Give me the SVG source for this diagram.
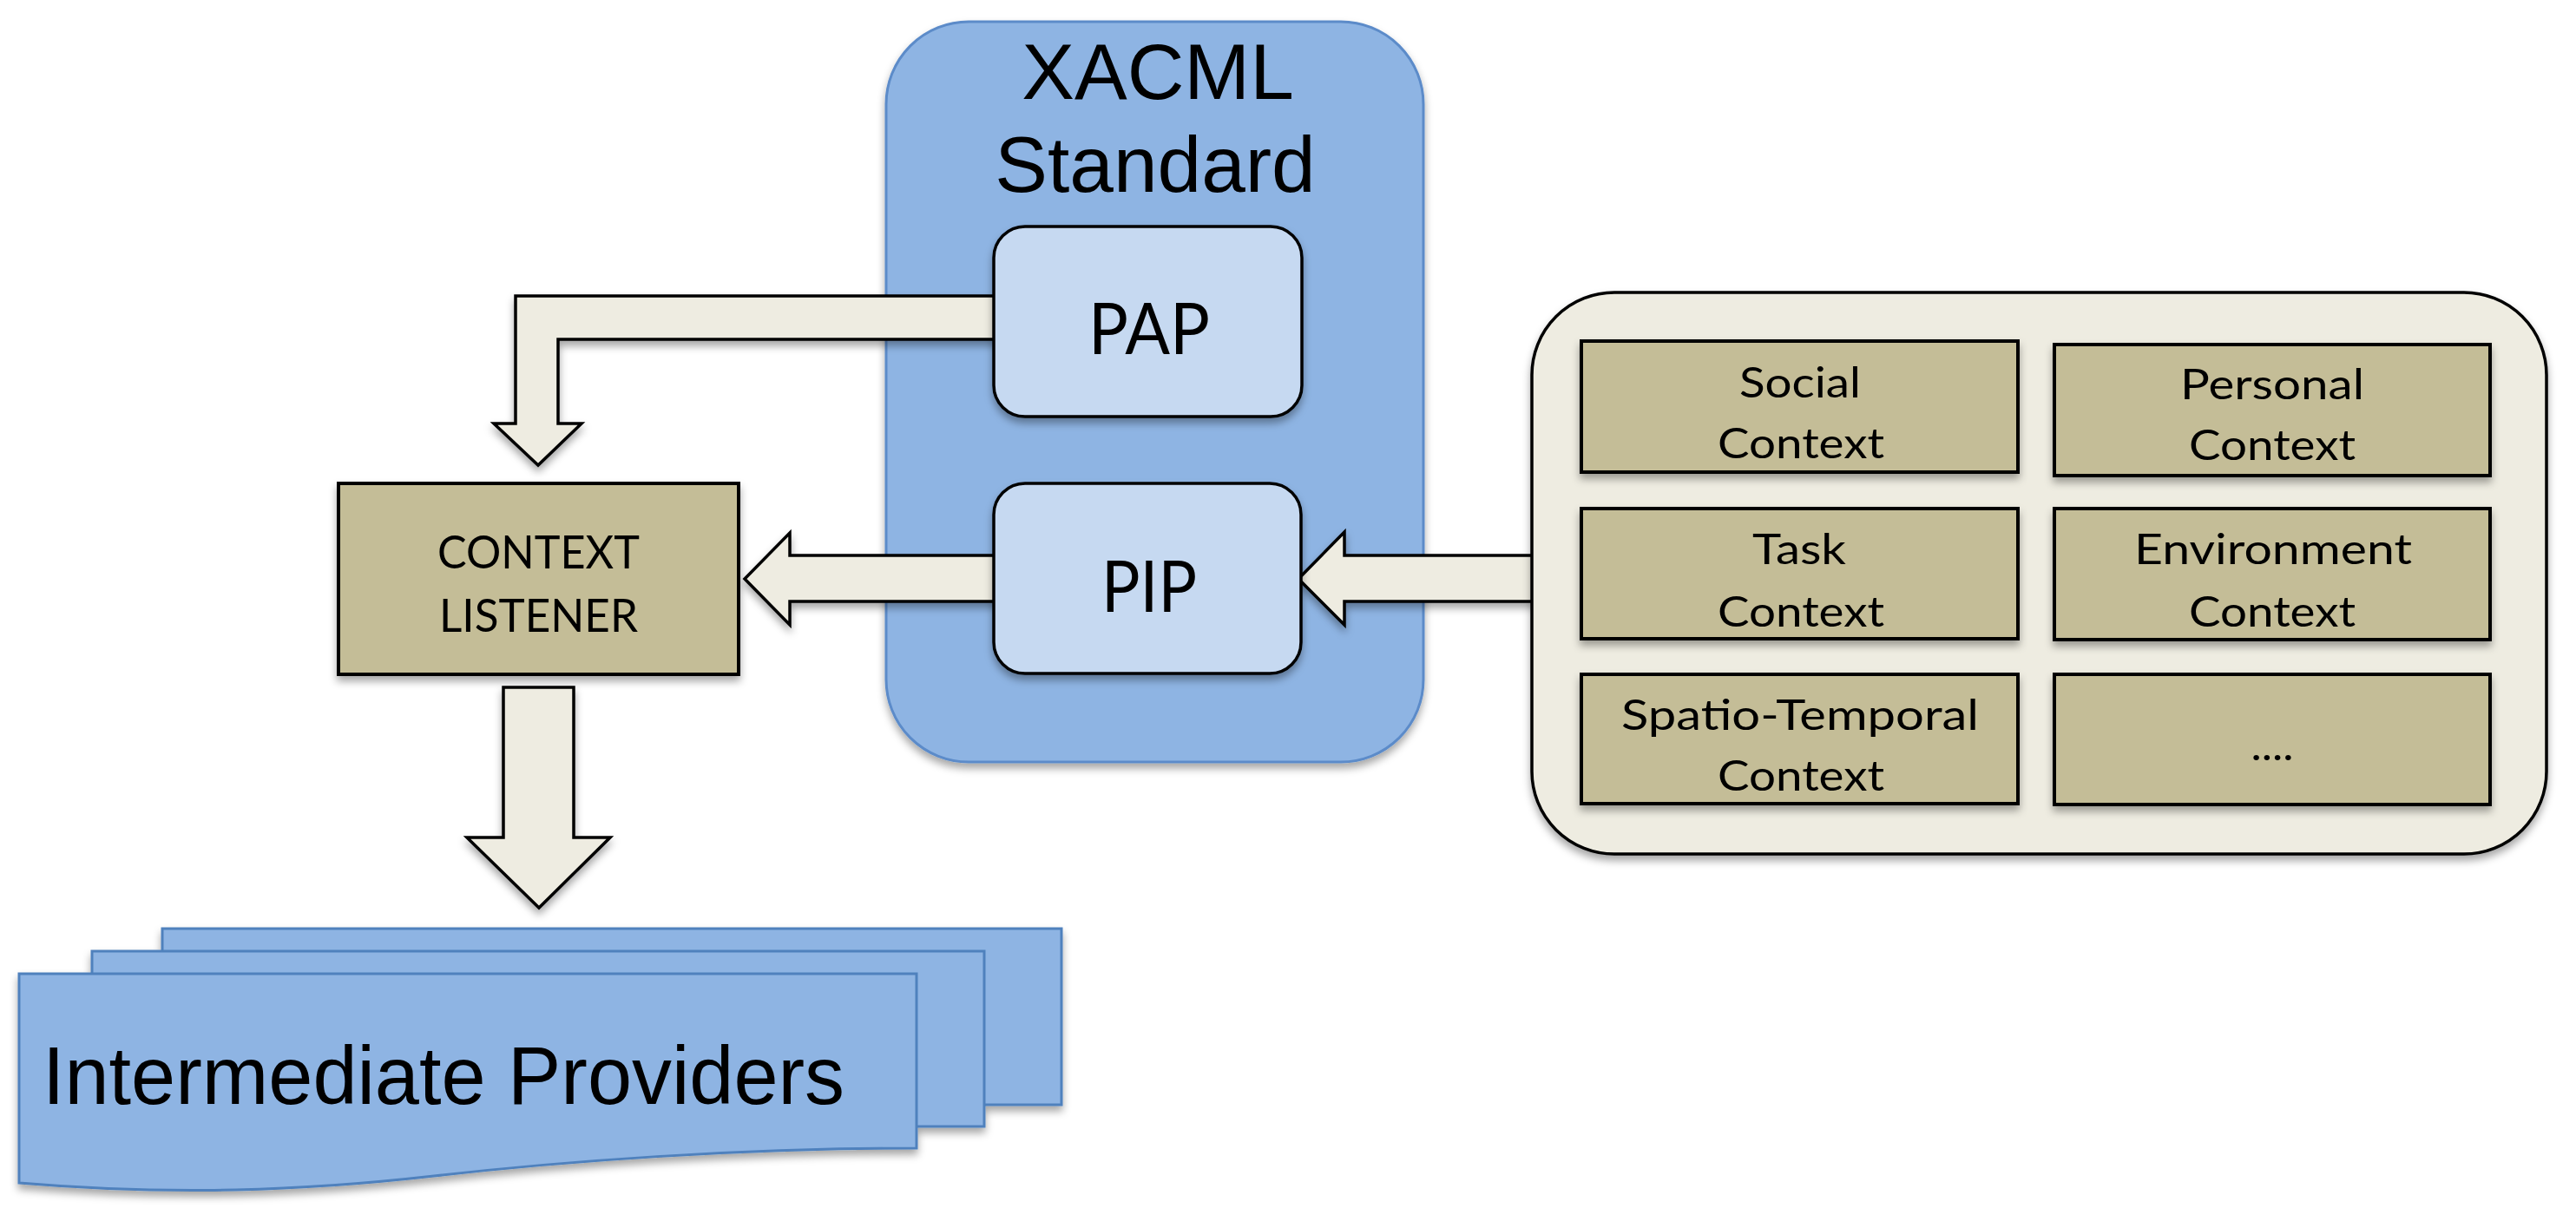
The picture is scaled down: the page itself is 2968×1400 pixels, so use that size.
<svg xmlns="http://www.w3.org/2000/svg" width="2968" height="1400" viewBox="0 0 2968 1400">
<defs>
<filter id="sh" x="-10%" y="-10%" width="120%" height="130%">
<feDropShadow dx="0" dy="6" stdDeviation="5" flood-color="#000" flood-opacity="0.35"/>
</filter>
<style>
.xacml{fill:#8eb4e3;stroke:#5b8bc9;stroke-width:3}
.inner{fill:#c6d9f1;stroke:#000;stroke-width:3.5}
.khaki{fill:#c4bd97;stroke:#000;stroke-width:4}
.cont{fill:#eeece1;stroke:#000;stroke-width:3.5}
.arrow{fill:#eeece1;stroke:#000;stroke-width:3.5;stroke-linejoin:miter}
.sheet{fill:#8eb4e3;stroke:#4f81bd;stroke-width:3}
.arial{font-family:"Liberation Sans",Arial,sans-serif;fill:#000}
.cal{font-family:Lato,"Open Sans",sans-serif;fill:#000;text-anchor:middle}
.ctx{font-size:48px}
</style>
</defs>
<rect width="2968" height="1400" fill="#fff"/>

<g id="xacml">
<rect class="xacml" x="1021" y="25" width="619" height="853" rx="95" ry="95" filter="url(#sh)"/>
<text class="arial" x="1334" y="114" font-size="91" text-anchor="middle">XACML</text>
<text class="arial" x="1331" y="221" font-size="91" text-anchor="middle">Standard</text>
</g>

<g id="intermediate-providers" filter="url(#sh)">
<rect class="sheet" x="187" y="1070" width="1036" height="203"/>
<rect class="sheet" x="106" y="1096" width="1028" height="202"/>
<path class="sheet" d="M22 1122 H1056 V1323 C850 1323 650 1338 500 1355 C350 1372 200 1378 22 1363 Z"/>
<text class="arial" x="49" y="1272" font-size="94" textLength="924" lengthAdjust="spacingAndGlyphs">Intermediate Providers</text>
</g>

<g id="connectors" filter="url(#sh)">
<path class="arrow" d="M1147 341 H594 V488 H569 L620 536 L670 488 H643 V391 H1147 Z"/>
<path class="arrow" d="M1147 640 H910 V614 L858 667 L910 720 V693 H1147 Z"/>
<path class="arrow" d="M1768 640 H1549 V613 L1496 667 L1549 720 V693 H1768 Z"/>
<path class="arrow" d="M580 792 H661 V965 H703 L621 1046 L538 965 H580 Z"/>
</g>

<g id="pap">
<rect class="inner" x="1145" y="261" width="355" height="219" rx="36" ry="36" filter="url(#sh)"/>
<text class="cal" x="1324" y="408" font-size="81" textLength="140" lengthAdjust="spacingAndGlyphs">PAP</text>
</g>

<g id="pip">
<rect class="inner" x="1145" y="557" width="354" height="219" rx="36" ry="36" filter="url(#sh)"/>
<text class="cal" x="1324" y="705" font-size="81" textLength="110" lengthAdjust="spacingAndGlyphs">PIP</text>
</g>

<g id="context-listener">
<rect class="khaki" x="390" y="557" width="461" height="220" filter="url(#sh)"/>
<text class="cal" x="620.5" y="655" font-size="53" textLength="233" lengthAdjust="spacingAndGlyphs">CONTEXT</text>
<text class="cal" x="620.5" y="728" font-size="53" textLength="229" lengthAdjust="spacingAndGlyphs">LISTENER</text>
</g>

<g id="context-sources">
<rect class="cont" x="1765" y="337" width="1169" height="647" rx="95" ry="95" filter="url(#sh)"/>
</g>

<g id="social-context">
<rect class="khaki" x="1822" y="393" width="503" height="151" filter="url(#sh)"/>
<text class="cal ctx" x="2074" y="458" textLength="140" lengthAdjust="spacingAndGlyphs">Social</text>
<text class="cal ctx" x="2075" y="528" textLength="192" lengthAdjust="spacingAndGlyphs">Context</text>
</g>

<g id="personal-context">
<rect class="khaki" x="2367" y="397" width="502" height="151" filter="url(#sh)"/>
<text class="cal ctx" x="2618" y="460" textLength="212" lengthAdjust="spacingAndGlyphs">Personal</text>
<text class="cal ctx" x="2618" y="530" textLength="192" lengthAdjust="spacingAndGlyphs">Context</text>
</g>

<g id="task-context">
<rect class="khaki" x="1822" y="586" width="503" height="150" filter="url(#sh)"/>
<text class="cal ctx" x="2073" y="650" textLength="108" lengthAdjust="spacingAndGlyphs">Task</text>
<text class="cal ctx" x="2075" y="722" textLength="192" lengthAdjust="spacingAndGlyphs">Context</text>
</g>

<g id="environment-context">
<rect class="khaki" x="2367" y="586" width="502" height="151" filter="url(#sh)"/>
<text class="cal ctx" x="2619" y="650" textLength="320" lengthAdjust="spacingAndGlyphs">Environment</text>
<text class="cal ctx" x="2618" y="722" textLength="192" lengthAdjust="spacingAndGlyphs">Context</text>
</g>

<g id="spatio-temporal-context">
<rect class="khaki" x="1822" y="777" width="503" height="149" filter="url(#sh)"/>
<text class="cal ctx" x="2074" y="841" textLength="412" lengthAdjust="spacingAndGlyphs">Spatio-Temporal</text>
<text class="cal ctx" x="2075" y="911" textLength="192" lengthAdjust="spacingAndGlyphs">Context</text>
</g>

<g id="more-context">
<rect class="khaki" x="2367" y="777" width="502" height="150" filter="url(#sh)"/>
<text class="cal ctx" x="2618" y="876" textLength="49" lengthAdjust="spacingAndGlyphs">....</text>
</g>
</svg>
